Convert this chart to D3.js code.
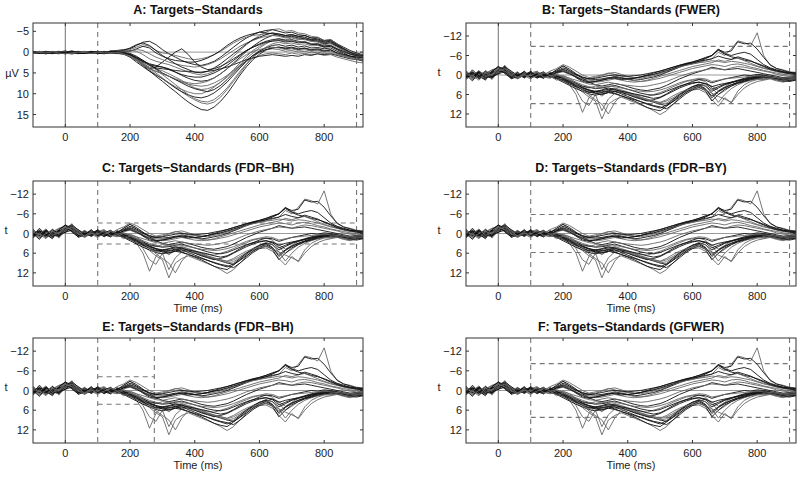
<!DOCTYPE html>
<html><head><meta charset="utf-8">
<script src="https://cdn.jsdelivr.net/npm/d3@7"></script>
<style>body{margin:0;background:#fff}svg{display:block;font-family:"Liberation Sans",Arial,sans-serif}</style>
</head><body><svg id="c" width="800" height="477"></svg>
<script>
const times=[-100,-80,-60,-40,-20,0,20,40,60,80,100,120,140,160,180,200,220,240,260,280,300,320,340,360,380,400,420,440,460,480,500,520,540,560,580,600,620,640,660,680,700,720,740,760,780,800,820,840,860,880,900,920];
const xTicks=[0,200,400,600,800];
const uVTicks=[-5,0,5,10,15];
const tTicks=[-12,-6,0,6,12];
const panelTitles=["A: Targets\u2212Standards","B: Targets\u2212Standards (FWER)","C: Targets\u2212Standards (FDR\u2212BH)","D: Targets\u2212Standards (FDR\u2212BY)","E: Targets\u2212Standards (FDR\u2212BH)","F: Targets\u2212Standards (GFWER)"];
const thresholds=[null,8.8,3.2,5.8,4.2,8.2];
const windowStarts=[100,100,100,100,100,100];
const windowEnds=[900,900,900,900,275,900];
const yLabels=["\u00b5V","t","t","t","t","t"];
const xLabels=["","","Time (ms)","Time (ms)","Time (ms)","Time (ms)"];

// Panel A: difference waves (microvolts), one array per channel
const uV1=[0.2,-0.1,0.3,0.0,-0.2,0.1,0.3,-0.1,0.2,0.0,-0.2,0.1,0.3,0.0,0.4,1.0,2.0,3.2,4.5,5.8,7.0,8.3,9.5,10.8,12.0,13.0,13.8,14.0,13.2,11.8,10.0,7.8,5.5,3.5,1.8,0.5,-0.5,-1.0,-1.2,-0.8,-1.0,-0.6,-0.9,-0.4,-0.6,-0.2,-0.5,0.3,0.8,1.2,0.9,1.0];
const uV2=[-0.1,0.2,0.0,0.3,0.1,-0.2,0.2,0.4,0.0,0.1,0.3,-0.1,0.2,0.1,0.3,0.8,1.6,2.6,3.8,5.0,6.2,7.4,8.5,9.6,10.6,11.5,12.2,12.5,12.0,10.8,9.0,7.0,5.0,3.0,1.2,-0.2,-1.2,-2.0,-2.4,-2.0,-2.2,-1.8,-2.0,-1.5,-1.6,-1.2,-1.4,-0.6,0.0,0.5,0.8,1.2];
const uV3=[0.3,0.0,-0.2,0.2,0.4,0.0,-0.3,0.1,0.3,-0.1,0.0,0.2,-0.2,0.3,0.5,1.2,2.4,3.5,4.6,5.5,6.4,7.5,8.6,9.5,10.3,10.8,11.0,10.6,9.8,8.6,7.2,5.5,3.8,2.2,0.8,-0.3,-1.0,-1.6,-1.8,-1.4,-1.7,-1.2,-1.5,-1.0,-1.1,-0.8,-1.0,-0.2,0.5,0.9,1.4,1.8];
const uV4=[0.0,0.3,0.1,-0.2,0.2,0.4,0.1,0.0,-0.2,0.3,0.1,0.0,0.2,-0.1,0.2,0.5,1.5,2.8,3.6,4.0,4.5,5.2,6.0,6.8,7.8,8.6,9.0,8.8,8.2,7.2,6.0,4.6,3.0,1.5,0.2,-1.0,-2.0,-2.8,-3.2,-3.0,-3.4,-3.0,-3.2,-2.6,-2.8,-2.2,-2.4,-1.5,-0.8,0.0,0.6,1.0];
const uV5=[-0.2,0.1,0.4,0.1,0.0,-0.3,0.2,0.3,0.1,-0.2,0.2,0.3,0.0,0.2,0.1,0.3,1.0,2.0,3.0,3.4,3.6,4.0,4.8,5.6,6.3,6.8,7.0,6.8,6.2,5.2,4.0,2.6,1.2,-0.2,-1.4,-2.5,-3.4,-4.0,-4.3,-4.0,-4.2,-3.8,-4.0,-3.4,-3.5,-2.8,-3.0,-2.0,-1.2,-0.4,0.2,0.6];
const uV6=[0.1,-0.2,0.2,0.3,-0.1,0.2,0.5,0.1,-0.1,0.2,0.0,-0.2,0.1,0.4,-0.2,-0.4,-0.2,0.6,1.6,2.2,2.6,3.0,3.6,4.2,4.8,5.2,5.5,5.2,4.6,3.6,2.4,1.0,-0.4,-1.8,-3.0,-4.0,-4.8,-5.4,-5.6,-5.0,-5.2,-4.6,-4.4,-3.8,-3.6,-2.8,-3.0,-2.0,-1.0,0.0,0.4,0.8];
const uV7=[0.2,0.3,-0.1,0.1,0.3,0.0,0.2,-0.2,0.3,0.1,-0.1,0.2,-0.3,-0.4,-0.6,-0.8,-1.6,-2.4,-2.6,-1.8,-0.6,0.4,1.2,2.0,2.6,3.0,3.2,2.8,2.2,1.2,0.0,-1.2,-2.4,-3.4,-4.2,-4.8,-5.2,-5.4,-5.0,-4.6,-4.8,-4.2,-4.0,-3.4,-3.2,-2.6,-2.8,-1.8,-0.8,0.2,0.6,1.0];
const uV8=[-0.1,0.0,0.2,0.4,0.1,0.3,-0.1,0.2,0.0,0.3,0.2,-0.1,0.0,-0.3,-0.2,-0.6,-1.2,-1.8,-1.4,-0.4,0.2,0.4,0.8,1.2,1.6,1.8,1.6,1.2,0.6,-0.2,-1.2,-2.2,-3.0,-3.6,-4.0,-4.2,-4.4,-4.6,-4.2,-3.8,-4.0,-3.6,-3.4,-3.0,-2.8,-2.2,-2.4,-1.4,-0.6,0.2,0.8,1.2];
const uV9=[0.3,0.1,0.0,-0.1,0.3,0.2,0.0,0.3,0.2,0.0,-0.1,0.3,0.2,0.0,0.3,0.6,1.8,3.0,4.0,3.6,2.4,1.2,0.0,-0.8,0.6,2.4,3.6,4.2,4.0,3.4,2.6,1.6,0.6,-0.4,-1.2,-2.0,-2.6,-3.0,-3.2,-2.8,-3.0,-2.6,-2.4,-2.0,-1.8,-1.2,-1.4,-0.6,0.2,1.0,1.6,2.2];
const uV10=[0.0,0.2,-0.1,0.3,0.1,0.0,0.4,0.0,0.1,0.2,0.3,0.0,0.1,0.3,0.5,1.0,2.0,3.0,4.0,4.6,5.2,5.8,6.6,7.2,7.7,8.0,8.2,8.0,7.4,6.6,5.6,4.4,3.2,2.2,1.4,0.8,0.4,0.2,0.4,0.6,0.2,0.5,0.3,0.6,0.4,0.8,0.6,1.2,1.6,2.0,2.4,2.6];
const uV11=[0.2,0.0,0.3,-0.1,0.0,0.3,0.1,0.2,-0.1,0.1,0.2,0.3,0.0,0.2,0.4,0.6,1.4,2.4,3.2,3.8,4.0,4.2,4.4,4.6,4.6,4.8,4.8,4.6,4.4,4.0,3.6,3.0,2.4,1.8,1.4,1.0,0.8,0.6,0.8,1.0,0.8,1.0,0.6,0.8,0.4,0.6,0.4,0.8,1.2,1.6,1.8,2.0];
const uV12=[-0.2,0.3,0.1,0.0,0.3,-0.1,0.2,0.1,0.3,0.0,0.1,0.2,0.3,0.1,0.2,0.6,1.4,2.2,3.2,4.2,5.4,6.6,7.8,9.0,10.2,11.2,11.8,12.0,11.4,10.2,8.6,6.6,4.6,2.8,1.2,0.0,-0.6,-0.8,-0.6,-0.2,-0.4,0.0,-0.2,0.2,0.0,0.4,0.2,0.6,1.0,1.4,1.8,2.0];
const uV13=[0.1,0.2,0.0,0.2,-0.1,0.3,0.1,-0.1,0.2,0.3,0.0,0.1,-0.2,0.0,-0.1,-0.2,-0.8,-1.4,-1.0,0.2,1.0,1.6,2.0,2.2,2.4,2.4,2.0,1.4,0.6,-0.4,-1.6,-2.6,-3.4,-4.0,-4.4,-4.8,-4.6,-4.4,-4.0,-3.6,-3.8,-3.4,-3.2,-2.8,-2.6,-2.0,-2.2,-1.4,-0.4,0.4,1.0,1.4];
const uV14=[0.3,-0.1,0.2,0.1,0.2,0.0,0.3,0.2,-0.1,0.1,0.0,0.3,0.2,0.1,0.3,0.8,1.8,3.0,4.2,5.4,6.4,7.4,8.3,9.0,9.6,10.0,10.0,9.4,8.4,7.2,5.8,4.2,2.6,1.0,-0.4,-1.4,-2.2,-2.8,-3.0,-2.6,-2.8,-2.4,-2.6,-2.0,-2.0,-1.6,-1.6,-0.8,0.0,0.6,1.0,1.4];
const uV15=[0.1,0.3,0.0,0.2,0.1,0.4,0.0,0.2,0.3,-0.1,0.1,0.2,0.0,0.3,0.2,0.6,1.4,2.2,2.8,3.2,3.6,4.2,4.8,5.4,5.8,6.0,6.0,5.6,5.0,4.2,3.2,2.0,0.8,-0.4,-1.2,-1.8,-2.4,-2.6,-2.8,-2.4,-2.6,-2.2,-2.4,-1.8,-2.0,-1.4,-1.6,-0.8,-0.2,0.4,0.8,1.0];
const uV16=[0.2,0.1,0.3,0.0,-0.1,0.2,0.3,0.1,0.0,0.2,0.1,-0.1,0.2,0.0,-0.2,-0.2,-0.6,-0.4,0.4,1.2,1.8,2.4,2.8,3.2,3.4,3.6,3.4,3.0,2.4,1.6,0.6,-0.4,-1.4,-2.2,-2.8,-3.4,-3.8,-4.0,-3.8,-3.4,-3.6,-3.2,-3.0,-2.6,-2.4,-1.8,-2.0,-1.2,-0.4,0.2,0.6,1.0];
const uV17=[0.0,0.2,0.4,0.1,0.2,0.0,0.1,0.3,0.2,0.0,0.2,0.4,0.1,0.3,0.2,0.6,1.2,2.0,3.0,4.0,5.0,5.8,6.6,7.4,8.2,8.8,9.2,9.5,9.0,8.0,6.6,5.0,3.4,2.0,0.8,0.0,-0.6,-1.0,-1.2,-1.0,-1.2,-0.8,-1.0,-0.6,-0.8,-0.4,-0.6,0.2,0.6,1.0,1.2,1.4];
const uV18=[-0.1,0.2,0.1,0.3,0.0,0.2,-0.2,0.1,0.3,0.0,0.2,-0.1,0.1,-0.2,-0.4,-1.0,-1.8,-2.2,-1.6,-0.4,0.8,1.8,2.8,3.6,4.2,4.8,5.0,4.6,3.8,2.8,1.6,0.4,-0.8,-2.0,-3.0,-3.6,-4.2,-4.6,-4.4,-4.0,-4.2,-3.8,-3.6,-3.0,-3.0,-2.4,-2.6,-1.6,-0.8,0.0,0.6,0.8];
const uV19=[0.3,0.1,0.2,-0.1,0.2,0.4,0.2,0.0,0.1,0.3,0.0,0.2,0.1,0.2,0.4,1.0,2.0,3.2,4.0,4.6,5.2,5.8,6.4,7.0,7.4,7.6,7.4,7.0,6.2,5.2,4.0,2.8,1.6,0.6,-0.2,-0.6,-1.0,-1.2,-1.0,-0.6,-0.8,-0.4,-0.6,-0.2,-0.4,0.0,-0.2,0.4,0.8,1.2,1.6,1.8];

// Panels B-F: t-scores, one array per channel
const t1=[0.5,-1.0,1.2,-0.4,-1.6,-2.2,-1.0,0.8,0.2,-0.6,0.4,-0.8,0.6,-0.4,-1.5,-2.8,-1.2,0.5,1.5,1.0,0.8,0.2,-0.5,-0.8,-0.2,0.4,0.8,1.0,0.6,0.2,-0.4,-1.0,-1.8,-2.6,-3.0,-3.4,-3.8,-4.4,-5.0,-7.0,-6.0,-8.0,-10.5,-10.0,-9.0,-13.0,-6.0,-3.0,-2.0,-1.6,-1.0,-0.8];
const t2=[-0.6,0.8,-1.2,0.4,-0.8,-1.8,-2.6,-0.4,0.6,-0.2,-1.0,0.2,-0.8,0.4,-0.8,-1.6,-0.6,0.8,2.0,2.4,2.0,1.6,1.0,0.4,0.8,1.2,1.6,1.4,1.0,0.6,0.0,-0.8,-1.6,-2.4,-3.2,-3.6,-4.2,-5.0,-6.0,-7.8,-7.0,-7.4,-10.2,-9.6,-9.8,-8.0,-5.4,-3.2,-2.0,-1.4,-0.8,-0.6];
const t3=[1.0,-0.4,0.6,-1.4,0.2,-1.2,-2.0,0.4,1.2,0.0,-0.6,0.8,-0.2,-1.0,0.4,1.2,3.0,6.0,11.5,7.0,5.0,6.5,5.0,4.2,4.8,5.4,6.0,6.4,6.6,6.0,5.4,4.6,3.6,2.8,2.0,1.6,1.4,2.0,4.0,6.0,4.8,3.4,2.4,2.0,1.6,1.2,1.4,1.0,1.6,2.0,1.4,1.2];
const t4=[-0.2,1.4,0.4,-0.8,1.0,-0.6,-1.6,-0.2,0.8,0.2,1.2,-0.4,0.6,0.0,0.8,1.6,2.4,3.8,5.2,6.8,8.0,13.5,9.0,7.6,6.8,7.6,8.4,9.2,10.0,11.0,12.2,11.0,9.0,7.0,5.2,4.0,3.2,2.6,3.4,4.8,3.6,2.4,1.8,1.4,1.0,0.8,1.2,0.6,1.2,1.6,1.0,0.8];
const t5=[0.4,-1.2,0.8,0.2,-0.4,-1.4,-0.8,0.6,-0.4,0.8,0.0,-1.0,0.4,0.8,0.6,0.2,1.0,2.4,3.6,4.0,3.4,3.8,4.4,4.0,4.6,5.2,6.0,6.8,7.4,8.0,8.6,8.0,7.0,5.8,5.0,4.6,4.4,5.4,7.6,9.6,7.0,8.6,6.0,4.0,2.8,2.0,1.6,1.2,1.8,2.2,1.6,1.4];
const t6=[-0.8,0.6,-0.2,1.0,-1.0,-0.2,-2.4,-1.2,0.2,-0.6,0.6,-0.2,1.0,-0.6,0.2,0.8,1.6,2.6,3.4,3.8,4.2,4.0,3.6,3.2,3.8,4.4,5.0,5.6,6.0,6.2,5.8,5.0,4.2,3.4,2.8,2.4,2.2,2.6,3.6,3.0,2.6,2.2,1.8,1.4,1.0,0.8,0.4,0.6,1.0,1.4,1.2,1.0];
const t7=[0.2,-0.6,1.2,-0.2,0.4,-1.6,-1.2,0.4,-0.8,0.4,-0.4,0.6,-0.6,0.2,1.0,1.8,2.8,3.6,4.4,5.2,5.6,5.4,5.0,5.6,6.4,7.2,8.0,9.0,10.0,10.6,11.0,9.6,8.0,6.4,4.8,3.6,2.8,3.4,5.0,4.0,3.0,2.4,1.8,1.2,0.8,0.4,0.2,0.6,1.0,1.4,1.6,1.4];
const t8=[-1.2,0.4,0.2,-0.6,-1.4,-2.0,-0.6,0.2,-0.2,-0.8,0.4,-0.6,0.2,-1.2,-2.0,-3.2,-2.4,-1.2,0.0,0.8,0.4,0.0,-0.6,-0.2,0.4,0.6,0.8,0.6,0.2,-0.2,-0.6,-1.2,-1.8,-2.4,-3.0,-3.4,-3.8,-4.0,-4.4,-4.2,-3.8,-4.2,-4.0,-3.6,-3.2,-2.6,-2.0,-1.6,-1.2,-0.8,-0.6,-0.4];
const t9=[0.8,-0.2,-1.0,0.6,0.0,-1.0,-1.8,0.8,0.0,-0.4,0.2,0.8,-0.4,0.4,0.4,1.2,2.2,3.4,4.6,5.4,5.0,4.6,4.0,4.4,5.2,6.0,6.8,7.4,8.0,7.6,7.0,6.0,5.0,4.0,3.2,2.6,2.2,2.8,4.4,3.6,2.8,2.2,1.6,1.0,0.6,0.2,0.4,0.8,1.2,1.8,2.0,1.6];
const t10=[-0.4,1.0,-0.6,0.2,-0.2,-2.4,-1.4,-0.8,0.6,0.2,-0.2,-1.0,0.0,0.6,-0.6,-1.0,-0.2,0.6,1.2,1.6,1.8,1.4,1.0,0.6,1.0,1.4,1.8,2.0,1.8,1.4,1.0,0.4,-0.2,-0.8,-1.4,-2.0,-2.4,-2.8,-3.2,-3.0,-2.6,-3.2,-3.4,-3.0,-2.4,-2.0,-1.4,-1.0,-0.6,-0.2,0.0,0.2];
const t11=[0.0,-0.8,0.6,1.2,-0.6,-1.0,-2.2,0.0,0.4,-1.0,0.8,0.0,0.2,-0.2,0.2,0.8,1.8,3.0,4.0,4.8,5.6,6.0,5.4,5.0,5.4,6.0,6.6,7.2,7.8,8.4,9.0,9.4,8.2,6.8,5.4,4.2,3.4,4.4,6.4,5.0,3.8,3.0,2.4,1.8,1.2,0.8,0.6,0.4,0.8,1.2,1.0,0.8];
const t12=[0.6,0.2,-0.8,-0.2,0.8,-1.2,-2.8,-1.0,0.2,0.6,-0.6,0.4,-0.2,0.2,-1.0,-1.8,-1.0,0.0,0.8,1.2,1.0,0.6,0.2,0.0,0.2,0.4,0.2,0.0,-0.4,-0.8,-1.2,-1.8,-2.4,-3.0,-3.6,-4.0,-4.6,-5.2,-6.0,-7.6,-6.4,-5.6,-5.2,-4.6,-4.2,-3.6,-2.8,-2.0,-1.4,-1.0,-0.6,-0.4];
const t13=[-0.6,0.8,0.2,-1.0,0.4,-0.8,-1.8,0.2,-0.6,0.8,0.0,-0.4,0.8,-0.8,0.0,0.6,2.0,4.6,8.0,9.4,6.0,11.0,7.4,5.6,5.0,5.6,6.2,7.0,7.6,8.2,9.0,8.6,7.4,6.0,4.6,3.6,3.0,3.4,5.6,8.4,6.0,4.2,3.0,2.2,1.6,1.2,0.8,0.6,1.0,1.4,1.2,1.0];
const t14=[0.2,0.6,-0.4,0.8,-0.6,-1.6,-0.8,-0.2,1.0,-0.4,0.6,-0.6,0.4,-0.2,-1.6,-2.8,-1.8,-0.4,1.0,2.2,3.0,3.4,3.0,2.6,3.0,3.6,4.2,4.6,4.8,4.4,4.0,3.2,2.2,1.2,0.4,-0.4,-1.0,-1.6,-2.4,-2.0,-1.6,-1.8,-2.0,-1.6,-1.2,-0.8,-0.4,0.0,0.4,0.8,0.6,0.4];
const t15=[0.8,0.0,-0.6,0.4,1.0,-1.0,-1.4,0.6,-0.2,0.2,-0.8,0.2,0.6,0.0,0.8,1.4,2.4,3.2,4.0,4.6,5.0,5.2,4.8,5.0,5.8,6.6,7.4,8.2,9.0,9.6,10.2,9.2,7.6,6.0,4.6,3.6,3.0,4.2,7.0,5.2,4.0,3.0,2.2,1.6,1.0,0.6,0.4,0.8,1.2,1.6,1.4,1.2];
const t16=[-1.0,0.2,1.0,-0.6,-0.2,-2.0,-1.0,0.4,0.8,-0.6,0.2,0.6,-0.6,0.4,-0.4,-1.4,-0.8,0.4,1.4,2.0,2.2,2.0,1.6,1.2,1.6,2.0,2.2,2.0,1.6,1.0,0.4,-0.2,-0.8,-1.4,-2.0,-2.6,-3.0,-3.4,-3.8,-4.6,-4.2,-4.8,-5.2,-4.4,-3.6,-2.8,-2.2,-1.6,-1.0,-0.6,-0.4,-0.2];
const t17=[0.4,-0.4,0.8,-1.2,0.6,-1.4,-2.2,-0.6,0.4,0.0,-0.4,1.0,-0.2,0.4,-0.8,-1.2,-0.4,0.6,1.6,2.2,2.0,1.6,1.2,0.8,1.0,1.2,1.0,0.6,0.2,-0.2,-0.8,-1.4,-2.0,-2.8,-3.4,-4.0,-4.6,-5.4,-6.0,-8.0,-6.6,-6.0,-6.6,-7.0,-6.4,-4.8,-3.2,-2.2,-1.6,-1.0,-0.8,-0.6];
const t18=[1.4,-0.8,0.2,1.6,-1.2,-2.6,-0.4,1.0,-0.8,0.6,-1.2,0.4,1.0,-0.6,0.4,1.0,2.0,3.0,3.8,4.6,5.2,4.8,4.4,4.6,5.0,5.4,5.8,6.2,6.8,7.2,6.8,5.8,4.6,3.6,2.8,2.0,1.4,1.6,2.4,1.8,1.2,0.8,0.4,0.0,0.2,-0.2,0.0,0.4,0.8,1.0,0.8,0.6];
const t19=[-1.4,1.2,-0.2,-1.0,1.4,-1.0,-3.0,0.0,-1.0,1.0,-0.6,-1.2,0.8,0.2,-0.2,0.4,1.0,1.6,2.2,2.8,3.0,2.6,2.2,2.6,3.0,3.2,3.4,3.6,3.4,3.0,2.6,2.0,1.2,0.4,-0.2,-0.8,-1.2,-1.6,-2.0,-1.8,-1.6,-2.2,-2.6,-2.4,-2.0,-1.6,-1.2,-0.8,-0.2,0.2,0.4,0.2];
const t20=[0.0,1.8,-1.0,0.4,0.6,-0.4,-1.0,1.2,0.4,-1.2,0.6,-0.2,-1.0,0.6,1.2,2.2,3.2,4.2,5.0,5.8,6.2,5.8,5.4,5.8,6.4,7.0,7.6,8.2,8.8,9.4,9.8,10.4,9.0,7.4,5.8,4.6,3.8,4.8,8.0,6.0,4.4,3.4,2.6,2.0,1.4,1.0,0.8,1.0,1.4,1.8,1.6,1.4];
const t21=[0.6,-1.6,0.4,-0.2,-1.0,-2.6,-1.6,0.6,0.0,0.8,-0.8,0.4,0.2,-0.4,-1.2,-2.2,-1.4,-0.2,0.6,1.2,1.4,1.2,0.8,1.0,1.4,1.2,1.0,0.6,0.0,-0.6,-1.2,-1.8,-2.4,-3.0,-3.4,-3.8,-4.2,-4.6,-5.0,-5.8,-5.2,-4.8,-5.6,-5.0,-4.4,-3.4,-2.6,-1.8,-1.2,-0.8,-0.4,-0.2];
const t22=[-0.2,0.2,1.6,-0.6,0.0,-1.2,-2.0,-1.0,1.0,0.0,0.2,-0.8,0.6,1.0,0.0,0.6,1.4,2.2,3.0,3.6,4.0,3.8,3.4,3.6,4.0,4.4,4.8,5.0,5.2,5.0,4.6,4.0,3.2,2.4,1.8,1.4,1.0,1.2,2.0,1.6,1.2,1.0,0.8,0.6,0.4,0.2,0.4,0.6,0.8,1.0,0.8,0.6];
const t23=[1.2,0.2,-1.4,0.6,-0.2,-1.8,-1.2,0.2,0.6,-0.2,1.0,0.2,-0.8,0.2,1.6,0.8,1.6,3.0,4.4,6.2,7.6,9.0,12.0,8.4,6.2,5.8,6.4,7.0,7.6,8.0,8.4,7.6,6.4,5.4,4.6,4.2,4.0,4.6,5.6,6.6,7.4,8.4,5.0,3.0,2.0,1.4,1.2,1.0,1.4,1.8,1.4,1.2];

const uVChannels=[uV1,uV2,uV3,uV4,uV5,uV6,uV7,uV8,uV9,uV10,uV11,uV12,uV13,uV14,uV15,uV16,uV17,uV18,uV19];
const tChannels=[t1,t2,t3,t4,t5,t6,t7,t8,t9,t10,t11,t12,t13,t14,t15,t16,t17,t18,t19,t20,t21,t22,t23];
const uVGrey=[false,true,false,true,false,true,false,true,false,true,false,true,false,true,false,true,false,false,true];
const tGrey=[true,false,true,true,true,false,false,true,false,true,false,false,true,false,false,true,false,false,true,false,false,true,true];

const svg=d3.select("#c");
const cols=[[33,363],[466,796]];
const rows=[[23,127],[181,286],[338,443]];
const titleY=[14,172,331];

panelTitles.forEach((title,p)=>{
  const c=cols[p%2], r=rows[Math.floor(p/2)];
  const isA=p===0;
  const x=d3.scaleLinear().domain([-100,920]).range(c);
  const y=d3.scaleLinear().domain(isA?[-7,18]:[-16,16]).range(r);
  const g=svg.append("g");
  const cid="clip"+p;
  g.append("clipPath").attr("id",cid).append("rect").attr("x",c[0]).attr("y",r[0]).attr("width",c[1]-c[0]).attr("height",r[1]-r[0]);
  const inner=g.append("g").attr("clip-path",`url(#${cid})`);
  inner.append("line").attr("x1",c[0]).attr("x2",c[1]).attr("y1",y(0)).attr("y2",y(0)).attr("stroke","#999").attr("stroke-width",1);
  inner.append("line").attr("x1",x(0)).attr("x2",x(0)).attr("y1",r[0]).attr("y2",r[1]).attr("stroke","#888").attr("stroke-width",1.2);
  const ws=windowStarts[p], we=windowEnds[p];
  [ws,we].forEach(v=>inner.append("line").attr("x1",x(v)).attr("x2",x(v)).attr("y1",r[0]).attr("y2",r[1]).attr("stroke","#777").attr("stroke-width",1.1).attr("stroke-dasharray","5,4"));
  if(thresholds[p]!==null){
    [-thresholds[p],thresholds[p]].forEach(v=>inner.append("line").attr("x1",x(ws)).attr("x2",x(we)).attr("y1",y(v)).attr("y2",y(v)).attr("stroke","#777").attr("stroke-width",1.1).attr("stroke-dasharray","5,4"));
  }
  const chans=isA?uVChannels:tChannels;
  const greys=isA?uVGrey:tGrey;
  const line=d3.line().x((d,i)=>x(times[i])).y(d=>y(d));
  chans.forEach((ch,i)=>{
    inner.append("path").attr("d",line(ch)).attr("fill","none")
      .attr("stroke",greys[i]?"#666":"#111").attr("stroke-width",0.9).attr("stroke-linejoin","round");
  });
  g.append("rect").attr("x",c[0]).attr("y",r[0]).attr("width",c[1]-c[0]).attr("height",r[1]-r[0]).attr("fill","none").attr("stroke","#333").attr("stroke-width",1);
  const yt=isA?uVTicks:tTicks;
  const tl=3;
  xTicks.forEach(v=>{
    g.append("line").attr("x1",x(v)).attr("x2",x(v)).attr("y1",r[1]).attr("y2",r[1]-tl).attr("stroke","#333");
    g.append("line").attr("x1",x(v)).attr("x2",x(v)).attr("y1",r[0]).attr("y2",r[0]+tl).attr("stroke","#333");
    g.append("text").attr("x",x(v)).attr("y",r[1]+14).attr("text-anchor","middle").attr("font-size",11).attr("fill","#222").text(v);
  });
  yt.forEach(v=>{
    g.append("line").attr("x1",c[0]).attr("x2",c[0]+tl).attr("y1",y(v)).attr("y2",y(v)).attr("stroke","#333");
    g.append("line").attr("x1",c[1]).attr("x2",c[1]-tl).attr("y1",y(v)).attr("y2",y(v)).attr("stroke","#333");
    g.append("text").attr("x",c[0]-4).attr("y",y(v)+4).attr("text-anchor","end").attr("font-size",11).attr("fill","#222").text(v<0?"\u2212"+Math.abs(v):v);
  });
  g.append("text").attr("x",(c[0]+c[1])/2).attr("y",titleY[Math.floor(p/2)]).attr("text-anchor","middle").attr("font-size",12.5).attr("font-weight","bold").attr("fill","#111").text(title);
  g.append("text").attr("x",isA?c[0]-21:c[0]-27).attr("y",isA?y(5)+4:y(-1)+4).attr("text-anchor","middle").attr("font-size",11).attr("fill","#222").text(yLabels[p]);
  if(xLabels[p]) g.append("text").attr("x",(c[0]+c[1])/2).attr("y",r[1]+26).attr("text-anchor","middle").attr("font-size",11).attr("fill","#222").text(xLabels[p]);
});
</script></body></html>
